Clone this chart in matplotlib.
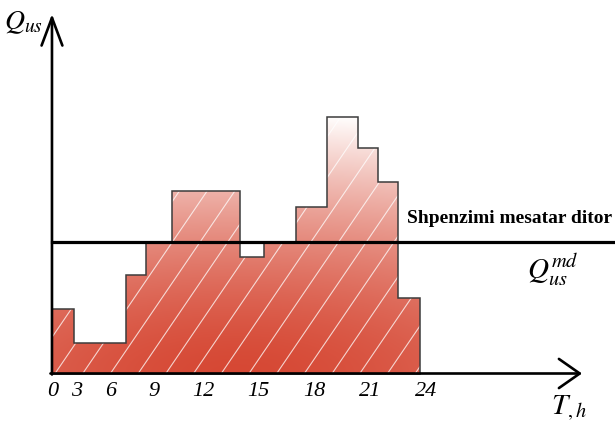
import numpy as np
import matplotlib
matplotlib.use("Agg")
import matplotlib.pyplot as plt
from matplotlib.path import Path
from matplotlib.patches import PathPatch

# Daily consumption profile: step boundaries (hours) and level of each step
edges = [0, 1.45, 4.85, 6.1, 7.85, 12.25, 13.8, 15.9, 17.95, 19.95, 21.25, 22.55, 24]
levels = [65, 31, 99, 131, 183, 117, 131, 167, 257, 226, 192, 76]
mean_level = 132

# Hour labels along the time axis
tick_pos = [0.05, 1.6, 3.85, 6.65, 9.87, 13.45, 17.1, 20.74, 24.43]
tick_labels = ["0", "3", "6", "9", "12", "15", "18", "21", "24"]

plt.rcParams["mathtext.fontset"] = "stix"
serif = ["Liberation Serif", "DejaVu Serif"]

fig = plt.figure(figsize=(6.15, 4.25), dpi=100)
ax = fig.add_axes([0, 0, 1, 1])
x_lo, x_hi = -3.39, 36.72
y_lo, y_hi = -51.5, 373.5
ax.set_xlim(x_lo, x_hi)
ax.set_ylim(y_lo, y_hi)
ax.axis("off")

# Outline of the stepped load curve
e = np.asarray(edges, dtype=float)
lv = np.asarray(levels, dtype=float)
xs = np.concatenate([[e[0]], np.repeat(e, 2)[1:-1], [e[-1]]])
ys = np.concatenate([[0.0], np.repeat(lv, 2), [0.0]])
verts = np.column_stack([xs, ys])
verts = np.vstack([verts, verts[:1]])
codes = [Path.MOVETO] + [Path.LINETO] * (len(verts) - 2) + [Path.CLOSEPOLY]
step_path = Path(verts, codes)

clip = PathPatch(step_path, facecolor="none", edgecolor="none")
ax.add_patch(clip)

# Red-to-white gradient fill
top = lv.max()
gx = np.linspace(e[0], e[-1], 400)
gy = np.linspace(0, top, 400)
GX, GY = np.meshgrid(gx, gy)
xc = 0.5 * (e[0] + e[-1])
r = np.sqrt(((GX - xc) / 50.0) ** 2 + (GY / top) ** 2)
t = np.clip(r, 0, 1) ** 1.55
c0 = np.array([214, 72, 52]) / 255.0
c1 = np.array([255, 252, 251]) / 255.0
rgb = c0[None, None, :] * (1 - t[..., None]) + c1[None, None, :] * t[..., None]
img = ax.imshow(rgb, extent=[e[0], e[-1], 0, top], origin="lower",
                aspect="auto", interpolation="bilinear", zorder=1)
img.set_clip_path(clip)

# Diagonal white hatch lines inside the curve
slope = 22.5
spacing = 1.807
for x0 in np.arange(0.2 - 8 * spacing, e[-1] + spacing, spacing):
    ln, = ax.plot([x0, x0 + top / slope + 1], [0, top + slope], color="white",
                  lw=0.8, alpha=0.75, zorder=2, solid_capstyle="butt")
    ln.set_clip_path(clip)

ax.add_patch(PathPatch(step_path, facecolor="none", edgecolor="#3c3c3c",
                       lw=1.1, zorder=3))

# Average daily level
ax.plot([0, x_hi], [mean_level, mean_level], color="black", lw=2.3, zorder=4)

# Axes with open arrowheads
ax.annotate("", xy=(34.57, 0), xytext=(-0.1, 0),
            arrowprops=dict(arrowstyle="->,head_length=15,head_width=10.5",
                            mutation_scale=1, lw=1.9, color="black",
                            shrinkA=0, shrinkB=0), zorder=5)
ax.annotate("", xy=(0, 359.5), xytext=(0, -1),
            arrowprops=dict(arrowstyle="->,head_length=20,head_width=7.5",
                            mutation_scale=1, lw=1.9, color="black",
                            shrinkA=0, shrinkB=0), zorder=5)

for p, s in zip(tick_pos, tick_labels):
    ax.text(p, -18.2, s, ha="center", va="center", fontsize=16,
            family=serif, style="italic")

ax.text(36.55, 150.5, "Shpenzimi mesatar ditor", ha="right", va="baseline",
        fontsize=14, family=serif, weight="bold")
ax.text(32.65, 103.5, r"$Q_{us}^{md}$", ha="center", va="center", fontsize=21)
ax.text(-1.85, 351.5, r"$Q_{us}$", ha="center", va="center", fontsize=20)
ax.text(33.75, -34.5, r"$T_{,h}$", ha="center", va="center", fontsize=21)

fig.savefig("out.png", dpi=100)
